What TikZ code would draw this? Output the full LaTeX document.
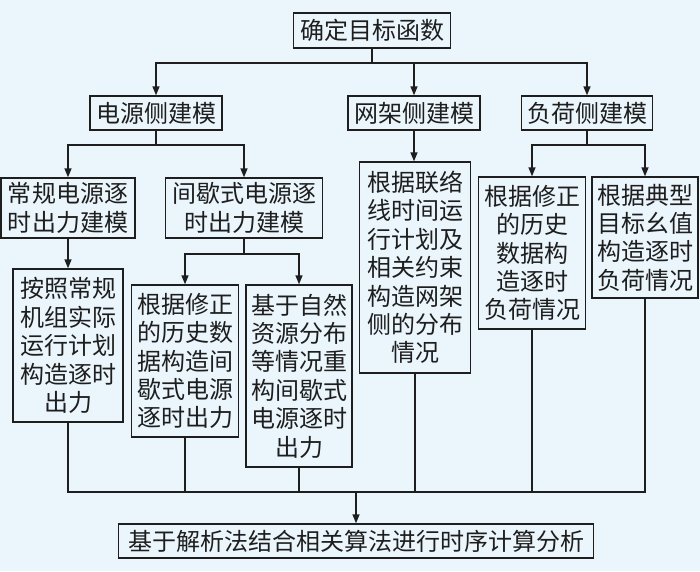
\documentclass[tikz,border=0pt]{standalone}
\usepackage{fontspec}
\newfontfamily\cjk{Noto Sans CJK SC}
\usetikzlibrary{arrows.meta}
\definecolor{bgc}{RGB}{234,245,252}
\definecolor{ln}{RGB}{30,30,30}
\begin{document}
\begin{tikzpicture}[x=1pt,y=1pt,
  box/.style={draw=ln,line width=1.4pt,fill=bgc,inner sep=0pt,align=center,
    font=\cjk\fontsize{24pt}{28.4pt}\selectfont,text=ln},
  conn/.style={draw=ln,line width=1.4pt},
  arr/.style={conn,-{Triangle[length=9pt,width=7pt]}}]
\useasboundingbox (0,0) rectangle (700,-571);
\fill[bgc] (0,0) rectangle (700,-571);
% nodes
\node[box,minimum width=157pt,minimum height=35pt] (top) at (372,-30.5) {确定目标函数};
\node[box,minimum width=132pt,minimum height=34pt] (dian) at (156,-113) {电源侧建模};
\node[box,minimum width=132pt,minimum height=34pt] (wang) at (414,-113) {网架侧建模};
\node[box,minimum width=131pt,minimum height=34pt] (fuhe) at (587,-113) {负荷侧建模};
\node[box,minimum width=134pt,minimum height=60pt] (chang) at (68,-208) {常规电源逐\\时出力建模};
\node[box,minimum width=157pt,minimum height=60pt] (jian) at (244,-208) {间歇式电源逐\\时出力建模};
\node[box,minimum width=111pt,minimum height=211pt] (lian) at (415,-267.5) {根据联络\\线时间运\\行计划及\\相关约束\\构造网架\\侧的分布\\情况};
\node[box,minimum width=107pt,minimum height=152pt] (fxz) at (532,-253) {根据修正\\的历史\\数据构\\造逐时\\负荷情况};
\node[box,minimum width=106pt,minimum height=121pt] (dx) at (645,-237.5) {根据典型\\目标幺值\\构造逐时\\负荷情况};
\node[box,minimum width=110pt,minimum height=153pt] (anz) at (68,-345.5) {按照常规\\机组实际\\运行计划\\构造逐时\\出力};
\node[box,minimum width=107pt,minimum height=152pt] (jxz) at (185,-361) {根据修正\\的历史数\\据构造间\\歇式电源\\逐时出力};
\node[box,minimum width=106pt,minimum height=182pt] (zr) at (299,-376) {基于自然\\资源分布\\等情况重\\构间歇式\\电源逐时\\出力};
\node[box,minimum width=475pt,minimum height=34pt] (bot) at (356,-541) {基于解析法结合相关算法进行时序计算分析};
% junctions
\coordinate (j1) at (372,-63);
\coordinate (j2) at (156,-145);
\coordinate (j3) at (587,-145);
\coordinate (j4) at (244,-254);
\coordinate (mL) at (68,-492);
% level 1
\draw[conn] (top.south) -- (j1);
\draw[arr] (j1) -| (dian.north);
\draw[arr] (j1) -| (fuhe.north);
\draw[arr] (wang.north |- j1) -- (wang.north);
% level 2
\draw[conn] (dian.south) -- (j2);
\draw[arr] (j2) -| (chang.north);
\draw[arr] (j2) -| (jian.north);
\draw[arr] (wang.south) -- (wang.south |- lian.north);
\draw[conn] (fuhe.south) -- (j3);
\draw[arr] (j3) -| (fxz.north);
\draw[arr] (j3) -| (dx.north);
% level 3
\draw[arr] (chang.south) -- (anz.north);
\draw[conn] (jian.south) -- (j4);
\draw[arr] (j4) -| (jxz.north);
\draw[arr] (j4) -| (zr.north);
% merge
\draw[conn] (anz.south) |- (dx.south |- mL) -- (dx.south);
\draw[conn] (jxz.south) -- (jxz.south |- mL);
\draw[conn] (zr.south) -- (zr.south |- mL);
\draw[conn] (lian.south) -- (lian.south |- mL);
\draw[conn] (fxz.south) -- (fxz.south |- mL);
\draw[arr] (bot.north |- mL) -- (bot.north);
\end{tikzpicture}
\end{document}
